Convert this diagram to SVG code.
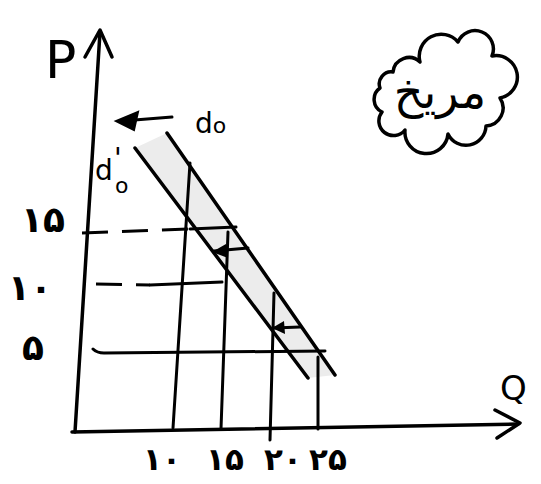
<svg xmlns="http://www.w3.org/2000/svg" width="541" height="484" viewBox="0 0 541 484">
<style>
.ln{stroke:#000;stroke-width:3.5;fill:none;stroke-linecap:round;stroke-linejoin:round}
.thin{stroke:#000;stroke-width:3;fill:none;stroke-linecap:round}
.dash{stroke:#000;stroke-width:3;fill:none;stroke-dasharray:26 14}
.lbl{font-family:"DejaVu Sans","Noto Sans",sans-serif;font-size:36px;font-weight:bold;fill:#000}
.xl{font-family:"DejaVu Sans","Noto Sans",sans-serif;font-size:31px;font-weight:bold;fill:#000}
.lat{font-family:"DejaVu Sans","Noto Sans",sans-serif;fill:#000}
.cl{font-family:"Noto Sans","DejaVu Sans",sans-serif;font-size:46px;fill:#000}
</style>
<rect width="541" height="484" fill="#fff"/>
<g id="shade">
<polygon points="167,133 335,375 308,378 135,148" fill="#ececec"/>
</g>
<g id="axes">
<path class="ln" d="M75,432 L100,32"/>
<path class="ln" d="M85,57 L100,30 L112,57"/>
<path class="ln" d="M72,432 L518,424"/>
<path class="ln" d="M495,410 L520,423 L497,438"/>
<text class="lat" x="45" y="78" font-size="52">P</text>
<text class="lat" x="500" y="400" font-size="34">Q</text>
</g>
<g id="connectors">
<path class="dash" d="M82,233 L190,229"/>
<path class="thin" d="M190,229 L236,227"/>
<path class="dash" d="M96,284 L150,285"/>
<path class="thin" d="M150,285 L222,282"/>
<path class="thin" d="M93,349 Q97,353 104,353 L325,351"/>
<path class="thin" d="M190,163 L173,428"/>
<path class="thin" d="M228,232 L221,429"/>
<path class="thin" d="M274,293 L270,440"/>
<path class="thin" d="M318,357 L318,429"/>
<path class="ln" d="M167,133 L335,375"/>
<path class="ln" d="M135,148 L308,378"/>
<path class="thin" d="M248,248 L214,251"/>
<path d="M226,244 L212,252 L228,258 Z" fill="#000"/>
<path class="thin" d="M300,327 L274,328"/>
<path d="M284,321 L272,328 L285,334 Z" fill="#000"/>
<path class="thin" d="M172,117 L122,121"/>
<path d="M138,112 L116,121 L134,130 Z" fill="#000" stroke="#000" stroke-width="2"/>
</g>
<g id="labels">
<text class="lat" x="195" y="133" font-size="28">d<tspan font-size="22">o</tspan></text>
<text class="lat" x="95" y="180" font-size="28">d</text>
<text class="lat" x="114" y="168" font-size="28">'</text>
<text class="lat" x="115" y="193" font-size="22">o</text>
<text class="lbl" x="43" y="232" text-anchor="middle">۱۵</text>
<text class="lbl" x="30" y="300" text-anchor="middle">۱۰</text>
<text class="lbl" x="33" y="360" text-anchor="middle">۵</text>
<text class="xl" x="162" y="470" text-anchor="middle">۱۰</text>
<text class="xl" x="225" y="470" text-anchor="middle">۱۵</text>
<text class="xl" x="283" y="470" text-anchor="middle">۲۰</text>
<text class="xl" x="328" y="470" text-anchor="middle">۲۵</text>
</g>
<g id="cloud">
<path class="ln" d="M393,72 A16,16 0 0 1 420,62 A22,22 0 0 1 458,42 A18,18 0 0 1 492,56 A20,20 0 0 1 500,98 A18,18 0 0 1 486,126 A20,20 0 0 1 448,134 A20,20 0 0 1 405,130 A14,14 0 0 1 382,112 A14,14 0 0 1 380,88 A12,12 0 0 1 393,72 Z"/>
<text class="cl" x="440" y="108" text-anchor="middle">مریخ</text>
</g>
</svg>
